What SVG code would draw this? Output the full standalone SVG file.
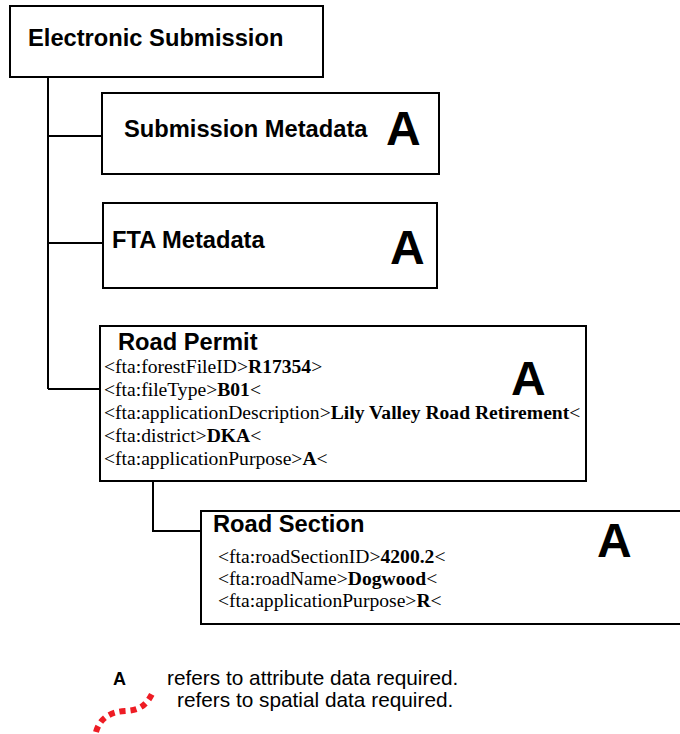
<svg xmlns="http://www.w3.org/2000/svg" width="680" height="734" viewBox="0 0 680 734">
<style>
.box{fill:#fff;stroke:#000;stroke-width:2}
.ln{fill:none;stroke:#000;stroke-width:2}
.t{font-family:"Liberation Sans",Arial,sans-serif;font-weight:bold;font-size:23.7px;fill:#000}
.big{font-family:"Liberation Sans",Arial,sans-serif;font-weight:bold;font-size:48px;fill:#000}
.r{font-family:"Liberation Serif","Times New Roman",serif;font-size:19.6px;fill:#000}
.b{font-weight:bold}
.lg{font-family:"Liberation Sans",Arial,sans-serif;font-size:20.8px;fill:#000}
.la{font-family:"Liberation Sans",Arial,sans-serif;font-size:18px;font-weight:bold;fill:#000}
</style>
<rect width="680" height="734" fill="#fff"/>
<g id="connectors">
<path class="ln" d="M48,77 V389 M48,136 H102 M48,243 H103 M48,389 H100"/>
<path class="ln" d="M153,481 V531 H201"/>
</g>
<g id="electronic-submission">
<rect class="box" x="10" y="6" width="313" height="71"/>
<text class="t" x="28" y="46">Electronic Submission</text>
</g>
<g id="submission-metadata">
<rect class="box" x="102" y="93" width="337" height="81"/>
<text class="t" x="124" y="137">Submission Metadata</text>
<text class="big" x="386" y="145">A</text>
</g>
<g id="fta-metadata">
<rect class="box" x="103" y="203" width="334" height="85"/>
<text class="t" x="112" y="248">FTA Metadata</text>
<text class="big" x="390" y="264">A</text>
</g>
<g id="road-permit">
<rect class="box" x="100" y="326" width="486" height="155"/>
<text class="t" x="118" y="350">Road Permit</text>
<text class="big" x="511" y="395">A</text>
<text class="r" x="104" y="373">&lt;fta:forestFileID&gt;<tspan class="b">R17354</tspan>&gt;</text>
<text class="r" x="104" y="396">&lt;fta:fileType&gt;<tspan class="b">B01</tspan>&lt;</text>
<text class="r" x="104" y="419">&lt;fta:applicationDescription&gt;<tspan class="b">Lily Valley Road Retirement</tspan>&lt;</text>
<text class="r" x="104" y="442">&lt;fta:district&gt;<tspan class="b">DKA</tspan>&lt;</text>
<text class="r" x="104" y="465">&lt;fta:applicationPurpose&gt;<tspan class="b">A</tspan>&lt;</text>
</g>
<g id="road-section">
<rect class="box" x="201" y="511" width="500" height="113"/>
<text class="t" x="213" y="532">Road Section</text>
<text class="big" x="597" y="557">A</text>
<text class="r" x="218" y="563">&lt;fta:roadSectionID&gt;<tspan class="b">4200.2</tspan>&lt;</text>
<text class="r" x="218" y="585">&lt;fta:roadName&gt;<tspan class="b">Dogwood</tspan>&lt;</text>
<text class="r" x="218" y="607">&lt;fta:applicationPurpose&gt;<tspan class="b">R</tspan>&lt;</text>
</g>
<g id="legend">
<text class="la" x="113" y="685">A</text>
<text class="lg" x="167" y="685">refers to attribute data required.</text>
<text class="lg" x="177" y="707">refers to spatial data required.</text>
<path d="M96,732 C100,718 110,712 125,711 C140,710 146,706 153,692" fill="none" stroke="#ee1c24" stroke-width="6" stroke-dasharray="6 5"/>
</g>
</svg>
